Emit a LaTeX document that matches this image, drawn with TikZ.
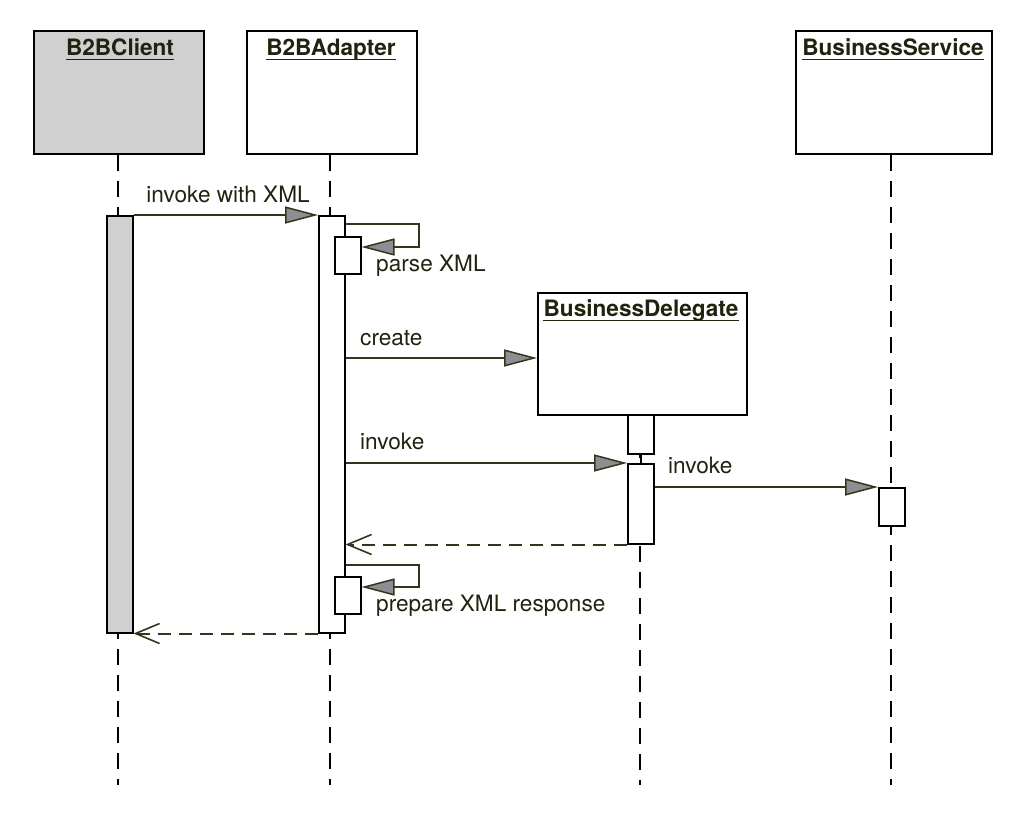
\documentclass[tikz,border=0pt]{standalone}
\usepackage{fontspec}
\setmainfont{TeX Gyre Heros}
\usetikzlibrary{arrows.meta,calc}
\definecolor{actgray}{HTML}{D1D0D1}
\definecolor{tipgray}{HTML}{8C8E93}
\definecolor{msgline}{HTML}{33361C}
\definecolor{txt}{HTML}{22220F}
\begin{document}
\begin{tikzpicture}[x=1pt,y=-1pt,
  objbox/.style={draw=black,line width=2pt,fill=white,minimum width=170pt,minimum height=123pt,inner sep=0pt},
  title/.style={font=\fontsize{22.6}{24}\selectfont\bfseries,text=txt,inner sep=0pt,anchor=base},
  uline/.style={draw=txt,line width=1.8pt},
  lifeline/.style={draw=black,line width=2pt,dash pattern=on 16pt off 10pt},
  actbar/.style={draw=black,line width=1.5pt,fill=white,minimum width=26pt,inner sep=0pt},
  msg/.style={draw=msgline,line width=2pt,-{Triangle[length=33pt,width=17pt,fill=tipgray,line width=1.5pt]}},
  ret/.style={draw=msgline,line width=2pt,dash pattern=on 13pt off 8pt,-{Straight Barb[length=24pt,width=20pt,line width=1.6pt]}},
  lbl/.style={font=\fontsize{22.6}{24}\selectfont,text=txt,inner sep=0pt,anchor=base west}]
\useasboundingbox (0,0) rectangle (1020,819);

% object boxes
\node[objbox,fill=actgray,anchor=north west] (cl) at (33,30) {};
\node[objbox,anchor=north west] (ad) at (246,30) {};
\node[objbox,anchor=north west,minimum width=196pt] (bs) at (795,30) {};
\node[objbox,anchor=north west,minimum width=209pt,minimum height=122pt] (bd) at (537,292) {};

\node[title] (tcl) at (120,55) {B2BClient};
\node[title] (tad) at (331,55) {B2BAdapter};
\node[title] (tbs) at (893,55) {BusinessService};
\node[title] (tbd) at (641,316) {BusinessDelegate};
\foreach \t in {tcl,tad,tbs,tbd}
  \draw[uline] ($(\t.base west)+(0,4.5)$) -- ($(\t.base east)+(0,4.5)$);

% lifeline ends
\coordinate (ecl) at (118,785);
\coordinate (ead) at (330,785);
\coordinate (ebd) at (640,785);
\coordinate (ebs) at (891,785);
\draw[lifeline] (cl.south -| ecl) -- (ecl);
\draw[lifeline] (ad.south -| ead) -- (ead);
\draw[lifeline] (bd.south -| ebd) -- (ebd);
\draw[lifeline] (bs.south -| ebs) -- (ebs);

% activation bars
\node[actbar,fill=actgray,anchor=north west,minimum height=417pt] (acl) at (106,215) {};
\node[actbar,anchor=north west,minimum height=417pt] (aad) at (318,215) {};
\node[actbar,anchor=north west,minimum height=39pt] (abd1) at (627,414) {};
\node[actbar,anchor=north west,minimum height=80pt] (abd2) at (627,463) {};
\draw[black,line width=1.5pt] (abd1.south) -- (abd2.north);
\node[actbar,anchor=north west,minimum height=38pt] (abs) at (878,487) {};
\node[actbar,anchor=north west,minimum height=37pt] (sp1) at (334,236) {};
\node[actbar,anchor=north west,minimum height=37pt] (sp2) at (334,576) {};

% messages
\draw[msg] (acl.north east) -- (aad.north west);
\node[lbl,anchor=base] (l1) at (228,202) {invoke with XML};

\coordinate (p1a) at (419,224);
\coordinate (p1b) at (419,247);
\draw[msg] (aad.east |- p1a) -- (p1a) -- (p1b) -- (sp1.east |- p1b);
\node[lbl] (l2) at (376,271) {parse XML};

\draw[msg] (aad.east |- 0,358) -- (bd.west |- 0,358);
\node[lbl] (l3) at (360,345) {create};

\draw[msg] (aad.east |- abd2.north) -- (abd2.north west);
\node[lbl] (l4) at (360,449) {invoke};

\draw[msg] (abd2.east |- abs.north) -- (abs.north west);
\node[lbl] (l5) at (668,473) {invoke};

\draw[ret] (abd2.south west) -- (aad.east |- abd2.south);

\coordinate (p2a) at (419,565);
\coordinate (p2b) at (419,587);
\draw[msg] (aad.east |- p2a) -- (p2a) -- (p2b) -- (sp2.east |- p2b);
\node[lbl] (l6) at (376,611) {prepare XML response};

\draw[ret] (aad.south west) -- (acl.south east);
\end{tikzpicture}
\end{document}
